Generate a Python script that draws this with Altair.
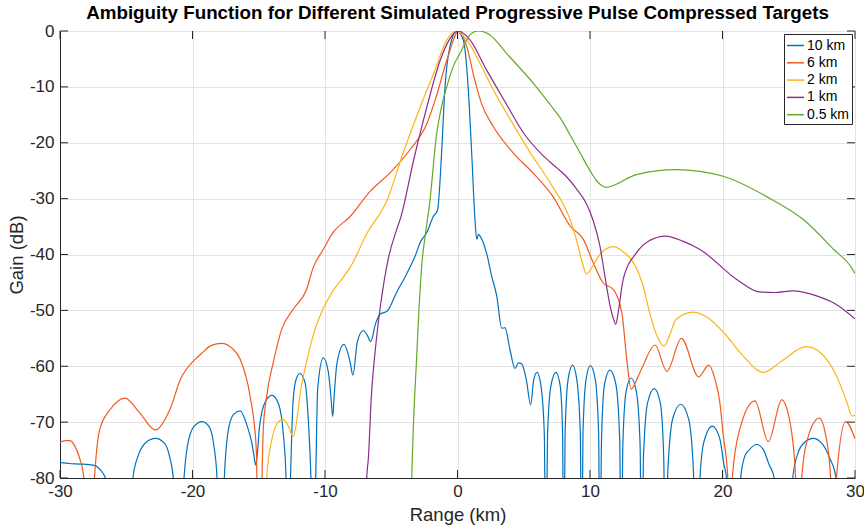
import altair as alt
import pandas as pd

series_names = ["10 km", "6 km", "2 km", "1 km", "0.5 km"]
series_colors = ["#0072BD", "#F25A1D", "#FDB515", "#8A2D8C", "#62AA24"]

x_ticks = [-30, -20, -10, 0, 10, 20, 30]
y_ticks = [-80, -70, -60, -50, -40, -30, -20, -10, 0]

# (range km, gain dB); values below -80 are clipped nulls
km10 = [(-30, -77.2), (-29.3, -77.4), (-28.5, -77.5), (-27.5, -77.7), (-27.0, -78.4), (-26.5, -80.5), (-26.2, -100),
        (-24.8, -100), (-24.5, -80), (-24.1, -76.0), (-23.5, -73.6), (-22.8, -72.9), (-22.1, -73.8), (-21.7, -76.5), (-21.45, -80), (-21.05, -100),
        (-20.64, -80), (-20.4, -74.5), (-19.9, -70.8), (-19.26, -69.9), (-18.7, -71.0), (-18.4, -74.0), (-18.15, -80), (-17.88, -100),
        (-17.6, -80), (-17.3, -71.5), (-16.9, -68.6), (-16.4, -68.0), (-15.9, -70.5), (-15.5, -74.0), (-15.35, -76.2), (-15.23, -77.7), (-15.1, -75.5),
        (-14.95, -71.0), (-14.5, -66.3), (-14.0, -65.2), (-13.5, -66.8), (-13.15, -72.0), (-12.94, -80), (-12.77, -100),
        (-12.6, -80), (-12.4, -66.0), (-12.2, -62.5), (-11.9, -61.3), (-11.5, -63.0), (-11.25, -70.0), (-11.06, -80), (-10.88, -100),
        (-10.7, -80), (-10.55, -64.0), (-10.13, -58.5), (-9.75, -61.0), (-9.55, -65.5), (-9.42, -69.0), (-9.3, -65.0), (-9.1, -59.5),
        (-8.57, -56.1), (-8.1, -59.3), (-7.9, -61.6), (-7.55, -55.5), (-7.1, -53.6), (-6.8, -54.5), (-6.55, -55.6), (-6.2, -52.5),
        (-5.85, -50.7), (-5.3, -50.1), (-4.6, -46.8), (-3.8, -43.3), (-3.1, -39.7), (-2.83, -37.9), (-2.3, -36.0), (-1.83, -33.2),
        (-1.5, -32.0), (-1.35, -28.0), (-1.2, -21.8), (-0.94, -9.9), (-0.57, -2.8), (-0.06, 0.0), (0.44, -1.6), (0.8, -9.9),
        (1.07, -21.8), (1.32, -33.75), (1.45, -37.3), (1.58, -36.4), (1.7, -36.7), (2.2, -39.8), (2.58, -43.9), (2.96, -47.4),
        (3.34, -53.2), (3.58, -53.1), (3.96, -57.0), (4.34, -60.4), (4.6, -59.4), (4.85, -59.6), (5.2, -62.5), (5.52, -66.9),
        (5.75, -62.5), (6.0, -61.1), (6.3, -63.5), (6.55, -72.0), (6.68, -100),
        (6.8, -72.0), (7.05, -63.5), (7.43, -61.1), (7.75, -63.5), (7.93, -72.0), (8.02, -100),
        (8.12, -72.0), (8.35, -62.3), (8.68, -59.8), (9.0, -62.3), (9.27, -72.0), (9.37, -100),
        (9.47, -72.0), (9.7, -62.4), (10.03, -59.9), (10.4, -62.4), (10.65, -72.0), (10.75, -100),
        (10.87, -73.0), (11.1, -63.2), (11.5, -60.7), (11.95, -63.2), (12.24, -73.0), (12.36, -100),
        (12.48, -74.0), (12.72, -64.6), (13.1, -62.1), (13.5, -64.6), (13.78, -74.0), (13.9, -100),
        (14.04, -76.0), (14.35, -66.5), (14.85, -64.0), (15.3, -66.5), (15.56, -76.0), (15.7, -100),
        (15.87, -79.0), (16.25, -69.3), (16.85, -66.8), (17.45, -69.5), (17.8, -78.5), (18.05, -100),
        (18.3, -80), (18.6, -73.5), (19.23, -70.7), (19.8, -73.0), (20.1, -77.5), (20.3, -80), (20.5, -100),
        (21.15, -100), (21.37, -80), (21.7, -76.0), (22.0, -75.0), (22.58, -74.0), (23.1, -75.0), (23.5, -77.5), (23.9, -80), (24.1, -100),
        (25.1, -100), (25.3, -80), (25.7, -75.5), (26.2, -73.6), (26.85, -72.9), (27.5, -73.8), (28.1, -76.5), (28.57, -80), (28.8, -100), (30, -100)]

km6 = [(-30, -73.6), (-29.6, -73.3), (-29.25, -73.3), (-28.9, -74.2), (-28.5, -76.6), (-28.2, -80), (-27.8, -100), (-27.4, -80),
       (-27.0, -71.3), (-26.2, -67.7), (-25.1, -65.7), (-24.0, -68.3), (-22.8, -71.4), (-21.7, -67.7), (-20.9, -62.3), (-19.9, -59.0),
       (-19.4, -57.9), (-18.6, -56.3), (-17.8, -55.9), (-17.0, -56.8), (-16.4, -58.75), (-15.66, -65.3), (-15.2, -74.2), (-14.96, -100),
       (-14.66, -71.3), (-14.4, -65.3), (-13.9, -59.3), (-13.27, -53.4), (-12.4, -49.8), (-11.4, -46.3), (-10.9, -42.4), (-10.13, -39.1),
       (-9.4, -36.1), (-8.1, -33.2), (-6.6, -28.7), (-5.1, -25.4), (-3.6, -21.3), (-2.3, -16.5), (-1.6, -11.7), (-0.8, -5.2),
       (0.1, 0.0), (0.7, -2.8), (1.3, -8.75), (1.8, -12.9), (2.7, -17.1), (4.2, -21.8), (5.7, -25.4), (7.2, -29.6), (8.5, -34.9),
       (9.5, -37.3), (10.25, -41.5), (11.0, -45.1), (11.76, -46.25), (12.4, -50.4), (12.8, -59.3), (13.1, -64.1), (13.65, -61.7),
       (14.0, -59.9), (14.9, -56.2), (15.8, -60.9), (16.9, -55.0), (18.2, -61.9), (18.96, -59.8), (19.43, -62.3), (19.8, -66.5),
       (20.06, -72.4), (20.4, -80), (20.57, -100), (20.74, -80), (21.3, -71.3), (22.45, -66.2), (23.46, -73.5), (24.47, -66.0),
       (25.1, -70.1), (25.52, -80), (25.75, -100), (25.98, -80), (26.35, -73.6), (27.3, -69.3), (27.8, -72.5), (28.16, -80),
       (28.38, -100), (28.6, -80), (29.3, -69.9), (30, -73.0)]

km2 = [(-14.6, -100), (-14.4, -80), (-14.0, -73.0), (-13.6, -70.2), (-13.15, -69.5), (-12.75, -70.8), (-12.4, -72.6), (-12.15, -70.0),
       (-11.9, -65.3), (-11.4, -59.3), (-10.75, -53.4), (-10.1, -49.5), (-9.4, -46.5), (-8.6, -44.0), (-8.1, -42.3), (-6.85, -36.3),
       (-5.3, -30.2), (-4.1, -21.8), (-2.8, -13.5), (-1.8, -7.6), (-0.8, -1.6), (-0.1, 0.0), (0.7, -1.6), (1.7, -5.8), (2.7, -10.5),
       (4.0, -15.9), (5.5, -21.8), (7.0, -27.2), (8.5, -33.75), (9.0, -37.5), (9.4, -41.3), (9.75, -43.5), (10.1, -42.5), (10.8, -39.8),
       (11.76, -38.6), (12.5, -39.5), (13.3, -41.5), (14.0, -45.5), (14.5, -50.4), (15.1, -54.8), (15.6, -56.4), (16.0, -54.5),
       (16.5, -51.6), (17.8, -50.3), (19.0, -51.5), (20.1, -54.0), (21.5, -58.0), (23.1, -61.1), (24.5, -59.0), (26.3, -56.5),
       (27.5, -57.8), (28.6, -61.7), (29.4, -66.5), (29.77, -68.9), (30, -68.8)]

km1 = [(-7.0, -100), (-6.85, -80), (-6.73, -76.6), (-6.5, -65.3), (-6.2, -57.0), (-5.85, -49.8), (-5.2, -40.5), (-4.6, -35.6),
       (-4.3, -33.5), (-3.3, -23.0), (-2.3, -13.5), (-1.3, -5.2), (-0.6, -1.5), (0.06, 0.0), (0.94, -1.6), (2.2, -7.0), (3.5, -12.3),
       (5.0, -18.3), (6.5, -22.4), (7.5, -24.5), (8.2, -26.0), (8.9, -28.0), (9.75, -31.0), (10.25, -34.0), (10.75, -38.5),
       (11.1, -43.5), (11.5, -49.0), (11.8, -51.7), (11.94, -52.5), (12.1, -50.8), (12.5, -44.5), (13.5, -39.7), (14.5, -37.5),
       (15.7, -36.7), (17.0, -37.6), (18.3, -39.1), (21.1, -44.5), (22.8, -46.7), (24.0, -46.8), (25.3, -46.5), (27.1, -47.4),
       (28.5, -48.8), (30, -51.5)]

km05 = [(-3.6, -100), (-3.45, -80), (-3.3, -69.0), (-3.1, -59.3), (-2.9, -49.5), (-2.7, -42.0), (-2.4, -36.0), (-2.1, -30.8),
        (-1.6, -18.9), (-1.2, -13.5), (-0.8, -9.9), (-0.3, -6.2), (0.19, -4.0), (0.6, -2.0), (0.94, -0.7), (1.57, 0.0), (2.45, -0.7),
        (3.7, -4.0), (5.7, -9.3), (7.0, -13.2), (7.74, -15.5), (8.5, -18.6), (9.25, -21.8), (10.0, -25.0), (10.5, -26.8), (10.9, -27.7),
        (11.26, -28.0), (11.8, -27.6), (13.5, -25.7), (16.5, -24.8), (20.06, -26.0), (23.3, -29.6), (26.1, -33.75), (28.4, -39.1),
        (29.75, -42.4), (30, -43.4)]

series_points = [km10, km6, km2, km1, km05]

FONT = "Liberation Sans"
INK = "#262626"

xscale = alt.Scale(domain=[-30, 30], nice=False, zero=False)
yscale = alt.Scale(domain=[-80, 0], nice=False, zero=False)

xaxis = alt.Axis(values=x_ticks, ticks=False, grid=True, gridColor="#e3e3e3", gridWidth=1,
                 domainColor=INK, labelFont=FONT, labelFontSize=17, labelColor=INK, labelPadding=5,
                 labelFlush=False, labelOverlap=False,
                 labelExpr="'' + datum.value", titleFont=FONT, titleFontSize=18.5, titleFontWeight="normal",
                 titleColor=INK, titlePadding=6)
yaxis = alt.Axis(values=y_ticks, ticks=False, grid=True, gridColor="#e3e3e3", gridWidth=1,
                 domainColor=INK, labelFont=FONT, labelFontSize=17, labelColor=INK, labelPadding=6,
                 labelFlush=False, labelOverlap=False,
                 labelExpr="'' + datum.value", titleFont=FONT, titleFontSize=18.5, titleFontWeight="normal",
                 titleColor=INK, titlePadding=3)

color_scale = alt.Scale(domain=series_names, range=series_colors)
legend = alt.Legend(orient="top-right", offset=3, symbolType="stroke", symbolSize=289, symbolStrokeWidth=1.5,
                    labelFont=FONT, labelFontSize=14, labelColor="#000000", labelOffset=2, padding=2,
                    rowPadding=0.3, strokeColor=INK, fillColor="white", cornerRadius=0)

X = alt.X("x:Q", scale=xscale, axis=xaxis, title="Range (km)")
Y = alt.Y("y:Q", scale=yscale, axis=yaxis, title="Gain (dB)")

layers = []
for name, pts in zip(series_names, series_points):
    df = pd.DataFrame({"x": [p[0] for p in pts], "y": [p[1] for p in pts], "series": name,
                       "ord": list(range(len(pts)))})
    layers.append(
        alt.Chart(df).mark_line(interpolate="monotone", clip=True, strokeWidth=1.2).encode(
            x=X, y=Y,
            color=alt.Color("series:N", scale=color_scale, legend=legend, title=None),
            order=alt.Order("ord:Q"),
        )
    )

xt = pd.DataFrame({"x": x_ticks})
yt = pd.DataFrame({"y": y_ticks})
tick_style = dict(color=INK, strokeWidth=1)
ticks = [
    alt.Chart(xt).mark_rule(**tick_style).encode(x=X, y=alt.value(447), y2=alt.value(439)),
    alt.Chart(xt).mark_rule(**tick_style).encode(x=X, y=alt.value(0), y2=alt.value(8)),
    alt.Chart(yt).mark_rule(**tick_style).encode(y=Y, x=alt.value(0), x2=alt.value(8)),
    alt.Chart(yt).mark_rule(**tick_style).encode(y=Y, x=alt.value(795), x2=alt.value(787)),
]

chart = alt.layer(*layers, *ticks).properties(
    width=795,
    height=447,
    autosize=alt.AutoSizeParams(type="none"),
    padding={"left": 60, "top": 31, "right": 9, "bottom": 50},
    title=alt.Title("Ambiguity Function for Different Simulated Progressive Pulse Compressed Targets",
                    font=FONT, fontSize=18.8, fontWeight="bold", color="#000000", anchor="middle",
                    frame="group", offset=-1),
).configure_view(stroke=INK, strokeWidth=1).configure(background="white")

chart.save("out.html", embed_options={"renderer": "svg", "actions": False})
